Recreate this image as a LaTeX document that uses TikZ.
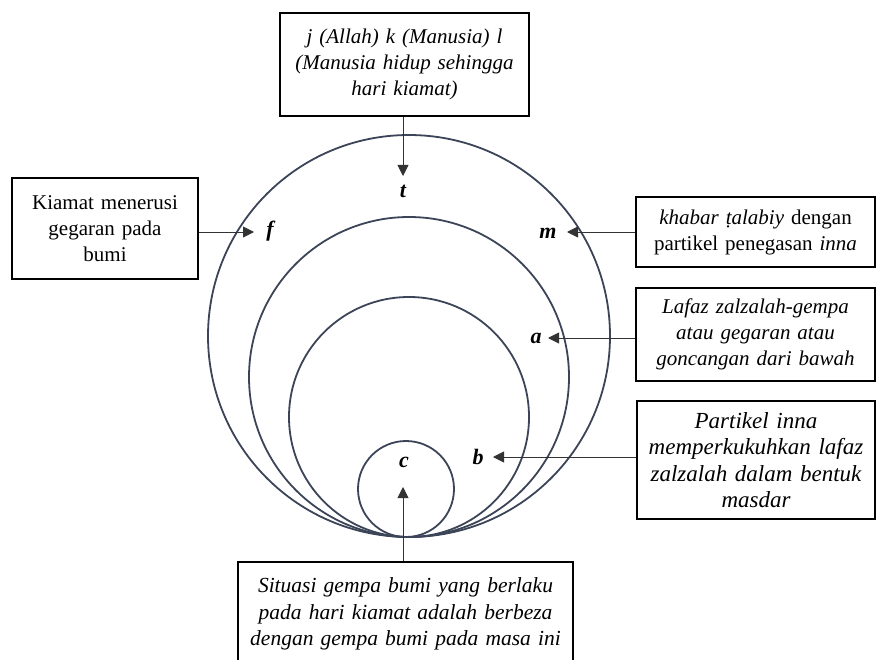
\documentclass[tikz,border=0pt]{standalone}
\usepackage{fontspec}
\setmainfont{Liberation Serif}
\usetikzlibrary{arrows.meta}
\definecolor{ringcol}{HTML}{3C4558}
\definecolor{linecol}{HTML}{333333}
\tikzset{
  boxnode/.style={draw=black, line width=1.3pt, align=center, inner sep=0pt,
    font=\fontsize{21}{26}\selectfont},
  ring/.style={draw=ringcol, line width=1.8pt},
  arr/.style={draw=linecol, line width=0.9pt, -{Triangle[length=11pt,width=11pt]}},
  lbl/.style={font=\fontsize{22}{24}\selectfont\bfseries\itshape, inner sep=0pt}
}
\begin{document}
\begin{tikzpicture}[x=1pt,y=-1pt]
\useasboundingbox (0,0) rectangle (877,660);
\clip (0,0) rectangle (877,660);
\fill[white] (0,0) rectangle (877,660);

% circles
\draw[ring] (409,336) circle[radius=201pt];
\draw[ring] (409,377) circle[radius=160pt];
\draw[ring] (409,417) circle[radius=120pt];
\draw[ring] (406,489) circle[radius=48pt];

% boxes
\node[boxnode, minimum width=249pt, minimum height=103pt, text width=240pt] (top) at (404.5,64.5)
  {\itshape j (Allah) k (Manusia) l\\(Manusia hidup sehingga\\hari kiamat)};
\node[boxnode, minimum width=186pt, minimum height=101pt, text width=180pt] (lbox) at (105,228.5)
  {Kiamat menerusi\\gegaran pada\\bumi};
\node[boxnode, minimum width=239pt, minimum height=70pt, text width=235pt] (r1) at (755.5,232)
  {\textit{khabar ṭalabiy} dengan\\partikel penegasan \textit{inna}};
\node[boxnode, minimum width=239pt, minimum height=93pt, text width=235pt] (r2) at (755.5,334.5)
  {\itshape Lafaz zalzalah-gempa\\atau gegaran atau\\goncangan dari bawah};
\node[boxnode, minimum width=238pt, minimum height=118pt, text width=237pt,
  font=\fontsize{23}{26.5}\selectfont] (r3) at (756,460)
  {\itshape Partikel inna\\memperkukuhkan lafaz\\zalzalah dalam bentuk\\masdar};
\node[boxnode, minimum width=335pt, minimum height=104pt, text width=330pt,
  font=\fontsize{21.5}{26.5}\selectfont] (bot) at (405.5,614)
  {\itshape Situasi gempa bumi yang berlaku\\pada hari kiamat adalah berbeza\\dengan gempa bumi pada masa ini};

% letters
\node[lbl] (t) at (403,191) {t};
\node[lbl] (f) at (270,231) {f};
\node[lbl] (m) at (548,233) {m};
\node[lbl] (a) at (536,338) {a};
\node[lbl] (b) at (478,457) {b};
\node[lbl] (c) at (404,462) {c};

% arrow tips
\coordinate (ttip) at (403,176);
\coordinate (ftip) at (254,232);
\coordinate (mtip) at (567,232);
\coordinate (atip) at (548,338);
\coordinate (btip) at (493,457);
\coordinate (ctip) at (403,487);

\draw[arr] (top.south -| ttip) -- (ttip);
\draw[arr] (lbox.east |- ftip) -- (ftip);
\draw[arr] (r1.west |- mtip) -- (mtip);
\draw[arr] (r2.west |- atip) -- (atip);
\draw[arr] (r3.west |- btip) -- (btip);
\draw[arr] (bot.north -| ctip) -- (ctip);
\end{tikzpicture}
\end{document}
